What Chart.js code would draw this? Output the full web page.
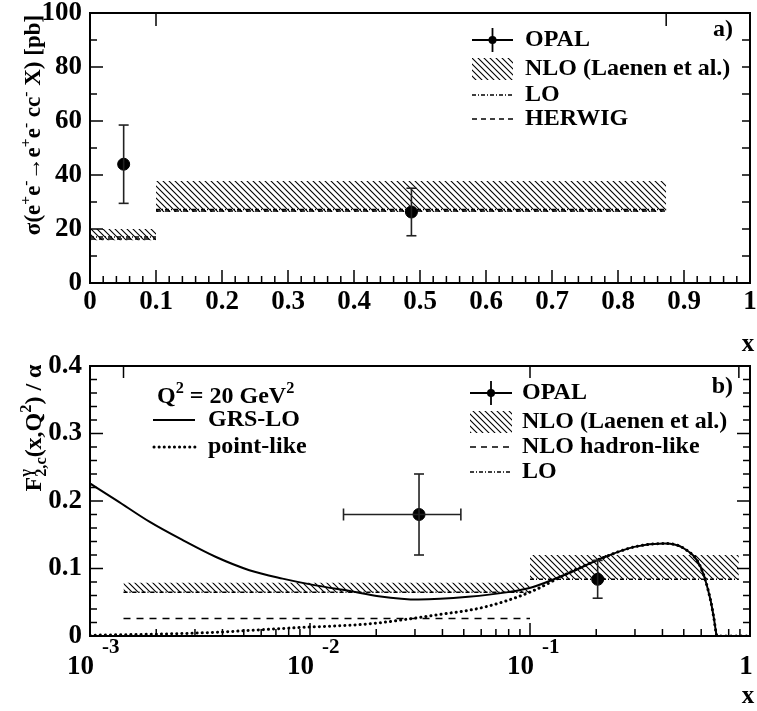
<!DOCTYPE html>
<html>
<head>
<meta charset="utf-8">
<script src="https://cdn.jsdelivr.net/npm/chart.js@4"></script>
<style>
  body { margin: 0; background: #fff; width: 757px; height: 711px; position: relative; overflow: hidden; }
  canvas { position: absolute; left: 0; }
  #chartA { top: 0; }
  #chartB { top: 340px; }
</style>
</head>
<body>
<canvas id="chartA" width="757" height="360"></canvas>
<canvas id="chartB" width="757" height="371"></canvas>
<script>
// ---- panel a) : cross-section vs x ----
const binEdgesA = [0, 0.1, 0.873];
const nloLowA = [15.8, 26.3];
const nloHighA = [20, 37.8];
const loA = [17, 27.2];
const herwigA = [16.3, 26.7];
const opalXA = [0.051, 0.487];
const opalYA = [44, 26.3];
const opalErrA = [14.5, 8.8];
const xLabelsA = ['0', '0.1', '0.2', '0.3', '0.4', '0.5', '0.6', '0.7', '0.8', '0.9', '1'];
const yLabelsA = ['0', '20', '40', '60', '80', '100'];

// ---- panel b) : F2c / alpha vs x ----
const binEdgesB = [0.00142, 0.1, 0.89];
const nloLowB = [0.064, 0.084];
const nloHighB = [0.079, 0.12];
const loB = [0.065, 0.084];
const hadronB = [0.026, 0];
const opalXB = [0.0313, 0.203];
const opalYB = [0.18, 0.084];
const opalErrB = [0.06, 0.028];
const opalXLowB = [0.0142, null];
const opalXHighB = [0.0485, null];
const grsX = [0.001, 0.00132, 0.00187, 0.00264, 0.00374, 0.0053, 0.0075, 0.0106, 0.015, 0.0205, 0.0311, 0.0524, 0.0795, 0.1014, 0.1486, 0.2104, 0.298, 0.407, 0.501, 0.596, 0.662, 0.684, 0.709, 1.0];
const grsY = [0.226, 0.201, 0.169, 0.142, 0.117, 0.0975, 0.085, 0.075, 0.067, 0.059, 0.054, 0.058, 0.065, 0.0718, 0.0926, 0.1148, 0.132, 0.137, 0.1297, 0.1024, 0.053, 0.028, 0, 0];
const pointX = [0.001, 0.00315, 0.0089, 0.0185, 0.037, 0.0624, 0.1, 0.149, 0.2104, 0.298, 0.407, 0.501, 0.596, 0.662, 0.684, 0.709, 1.0];
const pointY = [0.001, 0.0045, 0.0125, 0.018, 0.031, 0.043, 0.065, 0.093, 0.1148, 0.132, 0.137, 0.1297, 0.1024, 0.053, 0.028, 0, 0];
const xTickValsB = [0.001, 0.01, 0.1, 1];
const xExpB = ['-3', '-2', '-1', ''];
const yLabelsB = ['0', '0.1', '0.2', '0.3', '0.4'];

const SERIF = '"Liberation Serif", "DejaVu Serif", serif';
const font = size => `bold ${size}px ${SERIF}`;
const TICK = 27, LEG = 24;

// hatch pattern for the NLO bands
function makeHatch() {
  const c = document.createElement('canvas');
  c.width = 6; c.height = 6;
  const g = c.getContext('2d');
  g.strokeStyle = '#000';
  g.lineWidth = 1.1;
  g.beginPath();
  g.moveTo(-1, -1); g.lineTo(7, 7);
  g.moveTo(-1, 5); g.lineTo(1, 7);
  g.moveTo(5, -1); g.lineTo(7, 1);
  g.stroke();
  return g.createPattern(c, 'repeat');
}
const hatch = makeHatch();

function stepData(edges, vals) {
  const d = [];
  vals.forEach((v, i) => {
    if (i) d.push({x: edges[i], y: null});
    d.push({x: edges[i], y: v}, {x: edges[i + 1], y: v});
  });
  return d;
}

function bandSets(edges, low, high) {
  const sets = [];
  low.forEach((lo, i) => {
    sets.push({data: [{x: edges[i], y: high[i]}, {x: edges[i + 1], y: high[i]}], fill: '+1',
      backgroundColor: hatch, borderColor: 'rgba(0,0,0,0)', pointRadius: 0});
    sets.push({data: [{x: edges[i], y: lo}, {x: edges[i + 1], y: lo}], fill: false,
      borderColor: 'rgba(0,0,0,0)', pointRadius: 0});
  });
  return sets;
}

function line(ctx, x0, y0, x1, y1, dash) {
  ctx.setLineDash(dash || []);
  ctx.beginPath(); ctx.moveTo(x0, y0); ctx.lineTo(x1, y1); ctx.stroke();
  ctx.setLineDash([]);
}

// text with super/subscripts; p.s = 1 sup, -1 sub, 2 stacked (p.t sup, p.b sub)
function rich(ctx, parts, x, y, size, align) {
  const small = size * 0.68;
  const widthOf = p => {
    ctx.font = font(p.s ? small : size);
    if (p.s === 2) return Math.max(ctx.measureText(p.t).width, ctx.measureText(p.b).width);
    return ctx.measureText(p.t).width;
  };
  const total = parts.reduce((w, p) => w + widthOf(p), 0);
  let cx = align === 'center' ? x - total / 2 : align === 'right' ? x - total : x;
  ctx.textAlign = 'left';
  ctx.textBaseline = 'alphabetic';
  parts.forEach(p => {
    const w = widthOf(p);
    ctx.font = font(p.s ? small : size);
    if (p.s === 2) {
      ctx.fillText(p.t, cx, y - size * 0.4);
      ctx.fillText(p.b, cx, y + size * 0.2);
    } else {
      ctx.fillText(p.t, cx, y - (p.s === 1 ? size * 0.42 : p.s === -1 ? -size * 0.2 : 0));
    }
    cx += w;
  });
}

function opalSymbol(ctx, x0, x1, y) {
  ctx.lineWidth = 1.8;
  line(ctx, x0, y, x1, y);
  line(ctx, (x0 + x1) / 2, y - 12, (x0 + x1) / 2, y + 12);
  ctx.beginPath(); ctx.arc((x0 + x1) / 2, y, 4, 0, Math.PI * 2); ctx.fill();
}

function labelText(ctx, t, x, y, size, align) {
  ctx.font = font(size);
  ctx.textAlign = align || 'left';
  ctx.textBaseline = 'middle';
  ctx.fillText(t, x, y);
}

const errBars = {
  id: 'errBars',
  afterDatasetsDraw(chart, args, o) {
    const ctx = chart.ctx, sx = chart.scales.x, sy = chart.scales.y;
    ctx.save();
    ctx.strokeStyle = '#222';
    ctx.lineWidth = 1.6;
    o.xs.forEach((xv, i) => {
      const px = sx.getPixelForValue(xv);
      const top = sy.getPixelForValue(o.ys[i] + o.err[i]);
      const bot = sy.getPixelForValue(o.ys[i] - o.err[i]);
      line(ctx, px, top, px, bot);
      line(ctx, px - 5, top, px + 5, top);
      line(ctx, px - 5, bot, px + 5, bot);
      if (o.xlo && o.xlo[i] != null) {
        const py = sy.getPixelForValue(o.ys[i]);
        const l = sx.getPixelForValue(o.xlo[i]), r = sx.getPixelForValue(o.xhi[i]);
        line(ctx, l, py, r, py);
        line(ctx, l, py - 6, l, py + 6);
        line(ctx, r, py - 6, r, py + 6);
      }
    });
    ctx.restore();
  }
};

const decorA = {
  id: 'decorA',
  afterDraw(chart) {
    const ctx = chart.ctx, a = chart.chartArea, sx = chart.scales.x, sy = chart.scales.y;
    ctx.save();
    ctx.strokeStyle = '#000'; ctx.fillStyle = '#000';
    ctx.lineWidth = 2;
    ctx.strokeRect(a.left, a.top, a.right - a.left, a.bottom - a.top);
    ctx.lineWidth = 1.5;
    for (let v = 0; v <= 1.0001; v += 0.02) {
      const px = sx.getPixelForValue(v);
      const major = Math.abs(v * 10 - Math.round(v * 10)) < 1e-6;
      line(ctx, px, a.bottom, px, a.bottom - (major ? 13 : 7));
    }
    for (let v = 0; v <= 100; v += 10) {
      const py = sy.getPixelForValue(v);
      line(ctx, a.left, py, a.left + (v % 20 ? 7 : 13), py);
      line(ctx, a.right, py, a.right - 8, py);
    }
    binEdgesA.slice(1).forEach(e => {
      const px = sx.getPixelForValue(e);
      line(ctx, px, a.top, px, a.top + 13);
    });
    xLabelsA.forEach(t => labelText(ctx, t, sx.getPixelForValue(parseFloat(t)), 302, TICK, 'center'));
    yLabelsA.forEach(t => labelText(ctx, t, 82, sy.getPixelForValue(parseFloat(t)), TICK, 'right'));
    labelText(ctx, 'x', 748, 345, 25, 'center');
    labelText(ctx, 'a)', 733, 30, LEG, 'right');

    // y title
    ctx.save();
    ctx.translate(40, 125);
    ctx.rotate(-Math.PI / 2);
    rich(ctx, [{t: 'σ(e'}, {t: '+', s: 1}, {t: 'e'}, {t: '-', s: 1}, {t: '→e'}, {t: '+', s: 1},
      {t: 'e'}, {t: '-', s: 1}, {t: ' cc'}, {t: '-', s: 1}, {t: ' X) [pb]'}], 0, 0, 23, 'center');
    ctx.restore();

    // legend
    const x0 = 472, x1 = 513, tx = 525;
    opalSymbol(ctx, x0, x1, 40);
    ctx.fillStyle = hatch; ctx.fillRect(x0, 58, x1 - x0, 22); ctx.fillStyle = '#000';
    ctx.lineWidth = 1.5;
    line(ctx, x0, 95, x1, 95, [4, 2, 1, 2]);
    line(ctx, x0, 119, x1, 119, [5, 4]);
    labelText(ctx, 'OPAL', tx, 40, LEG);
    labelText(ctx, 'NLO (Laenen et al.)', tx, 69, LEG);
    labelText(ctx, 'LO', tx, 95, LEG);
    labelText(ctx, 'HERWIG', tx, 119, LEG);
    ctx.restore();
  }
};

const decorB = {
  id: 'decorB',
  afterDraw(chart) {
    const ctx = chart.ctx, a = chart.chartArea, sx = chart.scales.x, sy = chart.scales.y;
    ctx.save();
    ctx.strokeStyle = '#000'; ctx.fillStyle = '#000';
    ctx.lineWidth = 2;
    ctx.strokeRect(a.left, a.top, a.right - a.left, a.bottom - a.top);
    ctx.lineWidth = 1.5;
    xTickValsB.forEach(d => {
      for (let m = 1; m <= 9; m++) {
        const v = d * m;
        if (v > 1.0001) break;
        const px = sx.getPixelForValue(v);
        line(ctx, px, a.bottom, px, a.bottom - (m === 1 ? 13 : 7));
      }
    });
    for (let i = 0; i <= 20; i++) {
      const py = sy.getPixelForValue(i * 0.02);
      const len = i % 5 ? 7 : 13;
      line(ctx, a.left, py, a.left + len, py);
      line(ctx, a.right, py, a.right - len, py);
    }
    binEdgesB.forEach(e => {
      const px = sx.getPixelForValue(e);
      line(ctx, px, a.top, px, a.top + 12);
    });
    xTickValsB.forEach((v, i) => {
      const px = sx.getPixelForValue(v);
      if (xExpB[i]) {
        labelText(ctx, '10', px + 4, 327, TICK, 'right');
        labelText(ctx, xExpB[i], px + 12, 308, 21, 'left');
      } else {
        labelText(ctx, '1', px - 4, 327, TICK, 'center');
      }
    });
    yLabelsB.forEach(t => labelText(ctx, t, 82, sy.getPixelForValue(parseFloat(t)), TICK, 'right'));
    labelText(ctx, 'x', 748, 357, 25, 'center');
    labelText(ctx, 'b)', 733, 47, LEG, 'right');

    ctx.save();
    ctx.translate(41, 88);
    ctx.rotate(-Math.PI / 2);
    rich(ctx, [{t: 'F'}, {t: 'γ', b: '2,c', s: 2}, {t: '(x,Q'}, {t: '2', s: 1}, {t: ') / α'}], 0, 0, 24, 'center');
    ctx.restore();

    // left legend
    rich(ctx, [{t: 'Q'}, {t: '2', s: 1}, {t: ' = 20 GeV'}, {t: '2', s: 1}], 157, 63, LEG, 'left');
    ctx.lineWidth = 2;
    line(ctx, 153, 80, 195, 80);
    ctx.lineWidth = 3; ctx.lineCap = 'round';
    line(ctx, 154, 107, 195, 107, [0.1, 5]);
    ctx.lineCap = 'butt';
    labelText(ctx, 'GRS-LO', 208, 80, LEG);
    labelText(ctx, 'point-like', 208, 107, LEG);

    // right legend
    const x0 = 470, x1 = 512, tx = 522;
    opalSymbol(ctx, x0, x1, 53);
    ctx.fillStyle = hatch; ctx.fillRect(x0, 71, x1 - x0, 22); ctx.fillStyle = '#000';
    ctx.lineWidth = 1.5;
    line(ctx, x0, 107, x1, 107, [6, 5]);
    line(ctx, x0, 132, x1, 132, [4, 2, 1, 2]);
    labelText(ctx, 'OPAL', tx, 53, LEG);
    labelText(ctx, 'NLO (Laenen et al.)', tx, 82, LEG);
    labelText(ctx, 'NLO hadron-like', tx, 107, LEG);
    labelText(ctx, 'LO', tx, 132, LEG);
    ctx.restore();
  }
};

const baseOptions = (padding, xScale, yMax) => ({
  responsive: false,
  animation: false,
  events: [],
  layout: {padding},
  scales: {
    x: Object.assign({display: false}, xScale),
    y: {type: 'linear', min: 0, max: yMax, display: false}
  },
  plugins: {legend: {display: false}, tooltip: {enabled: false}}
});

const optsA = baseOptions({left: 90, right: 5, top: 13, bottom: 77}, {type: 'linear', min: 0, max: 1}, 100);
optsA.plugins.errBars = {xs: opalXA, ys: opalYA, err: opalErrA};
new Chart(document.getElementById('chartA'), {
  type: 'line',
  data: {
    datasets: [
      {data: opalXA.map((x, i) => ({x, y: opalYA[i]})), showLine: false, pointRadius: 6,
        pointBackgroundColor: '#000', pointBorderColor: '#000'},
      {data: stepData(binEdgesA, loA), borderColor: '#000', borderWidth: 1.5, borderDash: [4, 2, 1, 2], pointRadius: 0, spanGaps: false},
      {data: stepData(binEdgesA, herwigA), borderColor: '#000', borderWidth: 1.5, borderDash: [5, 4], pointRadius: 0, spanGaps: false},
      ...bandSets(binEdgesA, nloLowA, nloHighA)
    ]
  },
  options: optsA,
  plugins: [errBars, decorA]
});

const optsB = baseOptions({left: 90, right: 4, top: 26, bottom: 75}, {type: 'logarithmic', min: 0.001, max: 1}, 0.4);
optsB.plugins.errBars = {xs: opalXB, ys: opalYB, err: opalErrB, xlo: opalXLowB, xhi: opalXHighB};
new Chart(document.getElementById('chartB'), {
  type: 'line',
  data: {
    datasets: [
      {data: opalXB.map((x, i) => ({x, y: opalYB[i]})), showLine: false, pointRadius: 6,
        pointBackgroundColor: '#000', pointBorderColor: '#000'},
      {data: grsX.map((x, i) => ({x, y: grsY[i]})), borderColor: '#000', borderWidth: 2,
        pointRadius: 0, cubicInterpolationMode: 'monotone'},
      {data: pointX.map((x, i) => ({x, y: pointY[i]})), borderColor: '#000', borderWidth: 3,
        borderDash: [0.1, 5], borderCapStyle: 'round', pointRadius: 0, cubicInterpolationMode: 'monotone'},
      {data: stepData(binEdgesB, loB), borderColor: '#000', borderWidth: 1.5, borderDash: [4, 2, 1, 2], pointRadius: 0, spanGaps: false},
      {data: stepData(binEdgesB, hadronB), borderColor: '#000', borderWidth: 1.5, borderDash: [7, 6], pointRadius: 0, spanGaps: false},
      ...bandSets(binEdgesB, nloLowB, nloHighB)
    ]
  },
  options: optsB,
  plugins: [errBars, decorB]
});
</script>
</body>
</html>
